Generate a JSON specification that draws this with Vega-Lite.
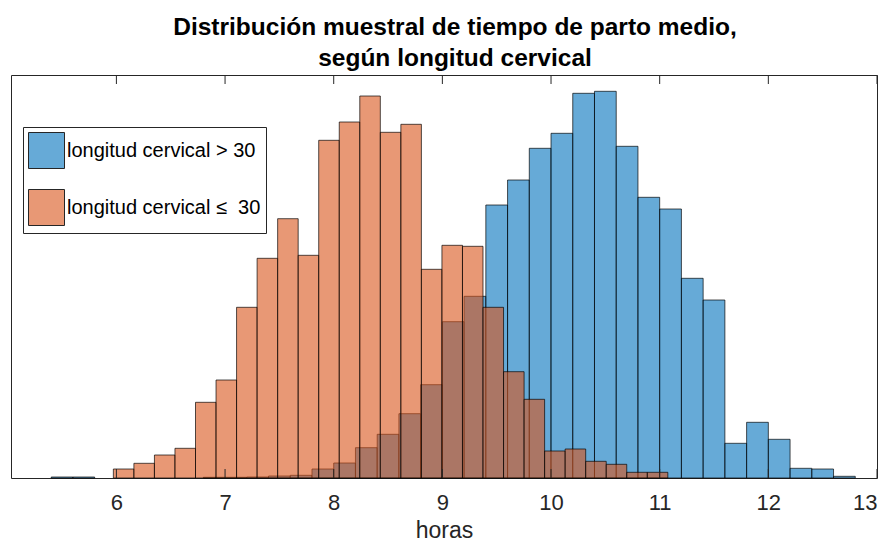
{
  "$schema": "https://vega.github.io/schema/vega-lite/v6.json",
  "width": 866,
  "height": 403,
  "autosize": {"type": "none"},
  "padding": {"left": 11, "top": 75, "right": 7, "bottom": 63},
  "background": "white",
  "config": {"view": {"stroke": "#262626", "strokeWidth": 1}, "font": "Liberation Sans"},
  "title": {
    "text": ["Distribución muestral de tiempo de parto medio,", "según longitud cervical"],
    "font": "Liberation Sans", "fontSize": 24.5, "fontWeight": "bold", "color": "#000",
    "lineHeight": 31, "offset": 3, "dx": 11, "anchor": "middle"
  },
  "datasets": {
    "ticks": [{"t": 6}, {"t": 7}, {"t": 8}, {"t": 9}, {"t": 10}, {"t": 11}, {"t": 12}, {"t": 13}]
  },
  "data": {"values": [
    {"g": "longitud cervical > 30", "x0": 5.4, "x1": 5.6, "n": 1},
    {"g": "longitud cervical > 30", "x0": 5.6, "x1": 5.8, "n": 1},
    {"g": "longitud cervical > 30", "x0": 6.8, "x1": 7.0, "n": 0.7},
    {"g": "longitud cervical > 30", "x0": 7.0, "x1": 7.2, "n": 0.7},
    {"g": "longitud cervical > 30", "x0": 7.2, "x1": 7.4, "n": 1},
    {"g": "longitud cervical > 30", "x0": 7.4, "x1": 7.6, "n": 2},
    {"g": "longitud cervical > 30", "x0": 7.6, "x1": 7.8, "n": 2.7},
    {"g": "longitud cervical > 30", "x0": 7.8, "x1": 8.0, "n": 9},
    {"g": "longitud cervical > 30", "x0": 8.0, "x1": 8.2, "n": 15},
    {"g": "longitud cervical > 30", "x0": 8.2, "x1": 8.4, "n": 30.3},
    {"g": "longitud cervical > 30", "x0": 8.4, "x1": 8.6, "n": 43.7},
    {"g": "longitud cervical > 30", "x0": 8.6, "x1": 8.8, "n": 64.3},
    {"g": "longitud cervical > 30", "x0": 8.8, "x1": 9.0, "n": 93.3},
    {"g": "longitud cervical > 30", "x0": 9.0, "x1": 9.2, "n": 156.3},
    {"g": "longitud cervical > 30", "x0": 9.2, "x1": 9.4, "n": 181.7},
    {"g": "longitud cervical > 30", "x0": 9.4, "x1": 9.6, "n": 273},
    {"g": "longitud cervical > 30", "x0": 9.6, "x1": 9.8, "n": 298},
    {"g": "longitud cervical > 30", "x0": 9.8, "x1": 10.0, "n": 329.7},
    {"g": "longitud cervical > 30", "x0": 10.0, "x1": 10.2, "n": 344.7},
    {"g": "longitud cervical > 30", "x0": 10.2, "x1": 10.4, "n": 384.7},
    {"g": "longitud cervical > 30", "x0": 10.4, "x1": 10.6, "n": 386.7},
    {"g": "longitud cervical > 30", "x0": 10.6, "x1": 10.8, "n": 331.7},
    {"g": "longitud cervical > 30", "x0": 10.8, "x1": 11.0, "n": 280.7},
    {"g": "longitud cervical > 30", "x0": 11.0, "x1": 11.2, "n": 269},
    {"g": "longitud cervical > 30", "x0": 11.2, "x1": 11.4, "n": 199.7},
    {"g": "longitud cervical > 30", "x0": 11.4, "x1": 11.6, "n": 178},
    {"g": "longitud cervical > 30", "x0": 11.6, "x1": 11.8, "n": 34.7},
    {"g": "longitud cervical > 30", "x0": 11.8, "x1": 12.0, "n": 55.7},
    {"g": "longitud cervical > 30", "x0": 12.0, "x1": 12.2, "n": 38.7},
    {"g": "longitud cervical > 30", "x0": 12.2, "x1": 12.4, "n": 9.7},
    {"g": "longitud cervical > 30", "x0": 12.4, "x1": 12.6, "n": 9},
    {"g": "longitud cervical > 30", "x0": 12.6, "x1": 12.8, "n": 1.7},
    {"g": "longitud cervical ≤\u00a0 30", "x0": 5.972, "x1": 6.161, "n": 9},
    {"g": "longitud cervical ≤\u00a0 30", "x0": 6.161, "x1": 6.35, "n": 14.7},
    {"g": "longitud cervical ≤\u00a0 30", "x0": 6.35, "x1": 6.539, "n": 23},
    {"g": "longitud cervical ≤\u00a0 30", "x0": 6.539, "x1": 6.728, "n": 29.7},
    {"g": "longitud cervical ≤\u00a0 30", "x0": 6.728, "x1": 6.917, "n": 75.7},
    {"g": "longitud cervical ≤\u00a0 30", "x0": 6.917, "x1": 7.106, "n": 98},
    {"g": "longitud cervical ≤\u00a0 30", "x0": 7.106, "x1": 7.295, "n": 170.7},
    {"g": "longitud cervical ≤\u00a0 30", "x0": 7.295, "x1": 7.484, "n": 219.7},
    {"g": "longitud cervical ≤\u00a0 30", "x0": 7.484, "x1": 7.673, "n": 259.3},
    {"g": "longitud cervical ≤\u00a0 30", "x0": 7.673, "x1": 7.862, "n": 222.7},
    {"g": "longitud cervical ≤\u00a0 30", "x0": 7.862, "x1": 8.051, "n": 337.7},
    {"g": "longitud cervical ≤\u00a0 30", "x0": 8.051, "x1": 8.24, "n": 356},
    {"g": "longitud cervical ≤\u00a0 30", "x0": 8.24, "x1": 8.429, "n": 382},
    {"g": "longitud cervical ≤\u00a0 30", "x0": 8.429, "x1": 8.618, "n": 345.7},
    {"g": "longitud cervical ≤\u00a0 30", "x0": 8.618, "x1": 8.807, "n": 353.7},
    {"g": "longitud cervical ≤\u00a0 30", "x0": 8.807, "x1": 8.996, "n": 208.7},
    {"g": "longitud cervical ≤\u00a0 30", "x0": 8.996, "x1": 9.185, "n": 232.7},
    {"g": "longitud cervical ≤\u00a0 30", "x0": 9.185, "x1": 9.374, "n": 231.7},
    {"g": "longitud cervical ≤\u00a0 30", "x0": 9.374, "x1": 9.563, "n": 170.7},
    {"g": "longitud cervical ≤\u00a0 30", "x0": 9.563, "x1": 9.752, "n": 106.3},
    {"g": "longitud cervical ≤\u00a0 30", "x0": 9.752, "x1": 9.941, "n": 78.7},
    {"g": "longitud cervical ≤\u00a0 30", "x0": 9.941, "x1": 10.13, "n": 27},
    {"g": "longitud cervical ≤\u00a0 30", "x0": 10.13, "x1": 10.319, "n": 29},
    {"g": "longitud cervical ≤\u00a0 30", "x0": 10.319, "x1": 10.508, "n": 16.7},
    {"g": "longitud cervical ≤\u00a0 30", "x0": 10.508, "x1": 10.697, "n": 13.7},
    {"g": "longitud cervical ≤\u00a0 30", "x0": 10.697, "x1": 10.886, "n": 5.7},
    {"g": "longitud cervical ≤\u00a0 30", "x0": 10.886, "x1": 11.075, "n": 5.7}
  ]},
  "layer": [
    {
      "mark": {"type": "bar", "fillOpacity": 0.6, "stroke": "#000", "strokeWidth": 0.8, "strokeOpacity": 0.85},
      "encoding": {
        "x": {
          "field": "x0", "type": "quantitative",
          "scale": {"domain": [5.03, 13], "nice": false, "zero": false},
          "axis": {
            "orient": "bottom", "values": [6, 7, 8, 9, 10, 11, 12, 13], "format": "d",
            "ticks": false, "labelFlush": true, "labelOverlap": false,
            "domain": false, "grid": false,
            "labelFont": "Liberation Sans", "labelFontSize": 22, "labelColor": "#262626", "labelPadding": 14,
            "title": "horas", "titleFont": "Liberation Sans", "titleFontSize": 23, "titleFontWeight": "normal",
            "titleColor": "#262626", "titlePadding": 6
          }
        },
        "x2": {"field": "x1"},
        "y": {"field": "n", "type": "quantitative", "stack": null, "scale": {"domain": [0, 403], "nice": false}, "axis": null},
        "y2": {"datum": 0},
        "color": {
          "field": "g", "type": "nominal",
          "scale": {"domain": ["longitud cervical > 30", "longitud cervical ≤\u00a0 30"], "range": ["#0072BD", "#D95319"]},
          "legend": {
            "orient": "none", "legendX": 12, "legendY": 52, "title": null,
            "symbolType": "square", "symbolSize": 1296, "symbolStrokeColor": "#262626", "symbolStrokeWidth": 1,
            "labelFont": "Liberation Sans", "labelFontSize": 20, "labelColor": "#000", "labelOffset": 2, "labelLimit": 400,
            "rowPadding": 16, "padding": 5, "strokeColor": "#262626", "fillColor": "white", "cornerRadius": 0,
            "encode": {"symbols": {"update": {"fillOpacity": {"value": 0.6}, "opacity": {"value": 1}, "strokeOpacity": {"value": 1}}}}
          }
        }
      }
    },
    {
      "data": {"name": "ticks"},
      "mark": {"type": "rule", "color": "#262626", "strokeWidth": 1},
      "encoding": {
        "x": {"field": "t", "type": "quantitative"},
        "y": {"datum": 0},
        "y2": {"datum": 9}
      }
    },
    {
      "data": {"name": "ticks"},
      "mark": {"type": "rule", "color": "#262626", "strokeWidth": 1},
      "encoding": {
        "x": {"field": "t", "type": "quantitative"},
        "y": {"datum": 403},
        "y2": {"datum": 394}
      }
    }
  ]
}
